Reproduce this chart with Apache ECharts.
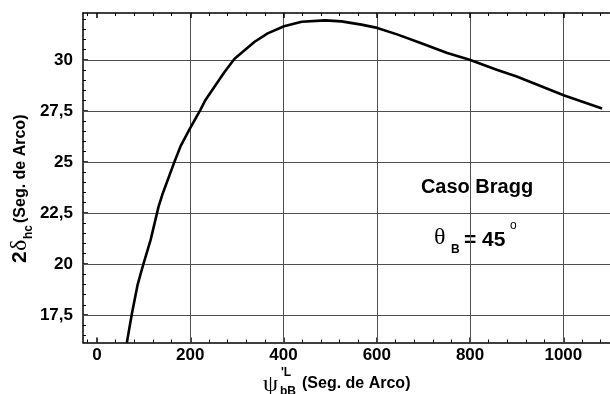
<!DOCTYPE html>
<html>
<head>
<meta charset="utf-8">
<script src="https://cdn.jsdelivr.net/npm/echarts@6/dist/echarts.min.js"></script>
<style>
html,body{margin:0;padding:0;background:#fff;}
#chart{width:610px;height:394px;}
</style>
</head>
<body>
<div id="chart"></div>
<script>
// ---- data ----
const psiValues = [64, 75, 87, 99, 115, 132, 140, 165, 179, 198, 222, 233, 273, 295, 338, 366, 401, 439, 489, 524, 567, 601, 645, 694, 751, 799, 857, 900, 1002, 1083];
const deltaValues = [16.14, 17.58, 18.97, 19.95, 21.18, 22.81, 23.39, 24.94, 25.76, 26.58, 27.56, 28.05, 29.40, 30.06, 30.89, 31.30, 31.65, 31.87, 31.94, 31.89, 31.73, 31.57, 31.24, 30.83, 30.34, 30.01, 29.52, 29.19, 28.26, 27.62];
const xTicks = [0, 200, 400, 600, 800, 1000];
const xGridTicks = [200, 400, 600, 800, 1000];
const xMinorTicks = [-20, 40, 80, 120, 160, 240, 280, 320, 360, 440, 480, 520, 560, 640, 680, 720, 760, 840, 880, 920, 960, 1040, 1080];
const yTicks = [17.5, 20, 22.5, 25, 27.5, 30];
const yMinorTicks = [16.5, 17, 18, 18.5, 19, 19.5, 20.5, 21, 21.5, 22, 23, 23.5, 24, 24.5, 25.5, 26, 26.5, 27, 28, 28.5, 29, 29.5, 30.5, 31, 31.5, 32];
const xRange = [-30, 1100];
const yRange = [16.15, 32.3];

const FONT = '"Liberation Sans", Arial, sans-serif';
const SERIF = '"Liberation Serif", "DejaVu Serif", serif';
const GRID_H = 329.5, GRID_W = 531;
const gridColor = '#505050';

function xAxisBase(extra) {
  return Object.assign({
    type: 'value', min: xRange[0], max: xRange[1],
    axisLine: {show: false, onZero: false}, axisLabel: {show: false}, splitLine: {show: false}
  }, extra);
}
function yAxisBase(extra) {
  return Object.assign({
    type: 'value', min: yRange[0], max: yRange[1], position: 'left',
    axisLine: {show: false, onZero: false}, axisLabel: {show: false}, splitLine: {show: false}
  }, extra);
}

const chart = echarts.init(document.getElementById('chart'), null, {renderer: 'canvas'});
const option = {
  animation: false,
  backgroundColor: '#fff',
  grid: {left: 83, top: 13, width: GRID_W, height: GRID_H, containLabel: false},
  xAxis: [
    xAxisBase({ // main bottom axis
      position: 'bottom',
      axisLine: {show: true, onZero: false, lineStyle: {color: '#000', width: 1.5}},
      axisTick: {show: true, inside: true, length: 5, customValues: xTicks, lineStyle: {color: '#000', width: 1.5}},
      axisLabel: {show: true, customValues: xTicks, margin: 4, color: '#000', fontFamily: FONT, fontWeight: 'bold', fontSize: 17,
        formatter: v => String(v)}
    }),
    xAxisBase({ // vertical grid lines
      position: 'bottom',
      axisTick: {show: true, inside: true, length: GRID_H, customValues: xGridTicks, lineStyle: {color: gridColor, width: 1}}
    }),
    xAxisBase({ // minor ticks bottom
      position: 'bottom',
      axisTick: {show: true, inside: true, length: 3, customValues: xMinorTicks, lineStyle: {color: '#000', width: 1}}
    }),
    xAxisBase({ // top border
      position: 'top',
      axisLine: {show: true, onZero: false, lineStyle: {color: '#000', width: 1.5}},
      axisTick: {show: true, inside: true, length: 5, customValues: xTicks, lineStyle: {color: '#000', width: 1.5}}
    }),
    xAxisBase({ // minor ticks top
      position: 'top',
      axisTick: {show: true, inside: true, length: 3, customValues: xMinorTicks, lineStyle: {color: '#000', width: 1}}
    })
  ],
  yAxis: [
    yAxisBase({
      axisLine: {show: true, onZero: false, lineStyle: {color: '#000', width: 1.5}},
      axisTick: {show: true, inside: true, length: 5, customValues: yTicks, lineStyle: {color: '#000', width: 1.5}},
      axisLabel: {show: true, customValues: yTicks, margin: 10, color: '#000', fontFamily: FONT, fontWeight: 'bold', fontSize: 17,
        formatter: v => String(v).replace('.', ',')}
    }),
    yAxisBase({ // horizontal grid lines
      axisTick: {show: true, inside: true, length: GRID_W, customValues: yTicks, lineStyle: {color: gridColor, width: 1}}
    }),
    yAxisBase({ // minor ticks
      axisTick: {show: true, inside: true, length: 3, customValues: yMinorTicks, lineStyle: {color: '#000', width: 1}}
    })
  ],
  series: [{
    type: 'line',
    xAxisIndex: 0, yAxisIndex: 0,
    data: psiValues.map((x, i) => [x, deltaValues[i]]),
    showSymbol: false,
    smooth: false,
    clip: true,
    lineStyle: {color: '#000', width: 2.6, join: 'round'},
    z: 5
  }],
  graphic: [
    { // y axis title, rotated
      type: 'group', x: 20.5, y: 180, rotation: Math.PI / 2,
      children: [
        {type: 'text', x: -83, y: 0, style: {text: '2', font: 'bold 21px ' + FONT, fill: '#000', align: 'left', verticalAlign: 'middle'}},
        {type: 'text', x: -71, y: -1, style: {text: 'δ', font: '24px ' + SERIF, fill: '#000', align: 'left', verticalAlign: 'middle'}},
        {type: 'text', x: -59, y: 8, style: {text: 'hc', font: 'bold 12px ' + FONT, fill: '#000', align: 'left', verticalAlign: 'middle'}},
        {type: 'text', x: -43, y: 0, style: {text: '(Seg. de Arco)', font: 'bold 16px ' + FONT, fill: '#000', align: 'left', verticalAlign: 'middle'}}
      ]
    },
    // x axis title
    {type: 'text', x: 263, y: 385, style: {text: 'ψ', font: '24px ' + SERIF, fill: '#000', align: 'left', verticalAlign: 'middle'}},
    {type: 'text', x: 281, y: 373, style: {text: "'L", font: 'bold 12px ' + FONT, fill: '#000', align: 'left', verticalAlign: 'middle'}},
    {type: 'text', x: 280, y: 392, style: {text: 'bB', font: 'bold 12px ' + FONT, fill: '#000', align: 'left', verticalAlign: 'middle'}},
    {type: 'text', x: 302, y: 384, style: {text: '(Seg. de Arco)', font: 'bold 16px ' + FONT, fill: '#000', align: 'left', verticalAlign: 'middle'}},
    // annotations
    {type: 'text', x: 477, y: 187, style: {text: 'Caso Bragg', font: 'bold 20px ' + FONT, fill: '#000', align: 'center', verticalAlign: 'middle'}},
    {type: 'text', x: 434, y: 238, style: {text: 'θ', font: '24px ' + SERIF, fill: '#000', align: 'left', verticalAlign: 'middle'}},
    {type: 'text', x: 451, y: 250, style: {text: 'B', font: 'bold 12px ' + FONT, fill: '#000', align: 'left', verticalAlign: 'middle'}},
    {type: 'text', x: 464, y: 240, style: {text: '= 45', font: 'bold 21px ' + FONT, fill: '#000', align: 'left', verticalAlign: 'middle'}},
    {type: 'text', x: 510, y: 226, style: {text: 'o', font: '12px ' + FONT, fill: '#000', align: 'left', verticalAlign: 'middle'}}
  ]
};
chart.setOption(option);
</script>
</body>
</html>
